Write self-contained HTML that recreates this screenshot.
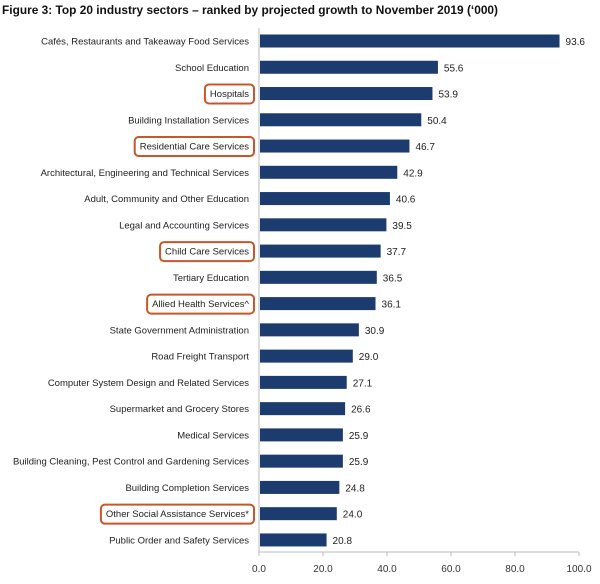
<!DOCTYPE html>
<html><head><meta charset="utf-8"><style>
body{margin:0;background:#fff;width:600px;height:579px;overflow:hidden;font-family:"Liberation Sans",sans-serif}
svg text{font-family:"Liberation Sans",sans-serif}
</style></head><body>
<svg id="c" width="600" height="579">
<text x="2" y="14" font-size="12" font-weight="bold" fill="#111" textLength="496" lengthAdjust="spacingAndGlyphs">Figure 3: Top 20 industry sectors – ranked by projected growth to November 2019 (‘000)</text>
</svg>
<script>
const categories=["Cafés, Restaurants and Takeaway Food Services","School Education","Hospitals","Building Installation Services","Residential Care Services","Architectural, Engineering and Technical Services","Adult, Community and Other Education","Legal and Accounting Services","Child Care Services","Tertiary Education","Allied Health Services^","State Government Administration","Road Freight Transport","Computer System Design and Related Services","Supermarket and Grocery Stores","Medical Services","Building Cleaning, Pest Control and Gardening Services","Building Completion Services","Other Social Assistance Services*","Public Order and Safety Services"];
const values=[93.6,55.6,53.9,50.4,46.7,42.9,40.6,39.5,37.7,36.5,36.1,30.9,29.0,27.1,26.6,25.9,25.9,24.8,24.0,20.8];
const highlighted=[false,false,true,false,true,false,false,false,true,false,true,false,false,false,false,false,false,false,true,false];
const ticks=[0,20,40,60,80,100];
const svg=document.getElementById('c');const NS='http://www.w3.org/2000/svg';
const x0=259,x1=579,yTop=28,step=26.26,firstC=41,bh=13;
const xs=v=>x0+(v/100)*(x1-x0);
const yc=i=>firstC+i*step;
function mk(t,a){const e=document.createElementNS(NS,t);for(const k in a)e.setAttribute(k,a[k]);svg.appendChild(e);return e;}
const axisY=yc(categories.length-1)+12;
let l=mk('line',{x1:x0,y1:yTop,x2:x0,y2:axisY,stroke:'#bbb'});


l=mk('line',{x1:x0,y1:axisY,x2:x1,y2:axisY,stroke:'#bbb'});


ticks.forEach(t=>{
 mk('line',{x1:xs(t),y1:axisY,x2:xs(t),y2:axisY+4,stroke:'#bbb'});
 const tx=mk('text',{x:xs(t),y:axisY+20,'font-size':10,'text-anchor':'middle',fill:'#333'});
 tx.textContent=t.toFixed(1);
 
 
});
categories.forEach((c,i)=>{
 const y=yc(i);
 const r=mk('rect',{x:x0+1,y:y-bh/2,width:xs(values[i])-x0,height:bh,fill:'#1c3b6e'});
 
 
 const t=mk('text',{x:249,y:y+3.5,'font-size':9.5,'text-anchor':'end',fill:'#222'});
 t.textContent=c;
 
 
 const v=mk('text',{x:xs(values[i])+7,y:y+4,'font-size':10,fill:'#222'});
 v.textContent=values[i].toFixed(1);
 
 
 if(highlighted[i]){
  const w=t.getComputedTextLength();
  const b=mk('rect',{x:249-w-5,y:y-9,width:w+10,height:19,rx:4,fill:'none',stroke:'#c8562a','stroke-width':2});
  
  
 }
});
</script>
</body></html>
